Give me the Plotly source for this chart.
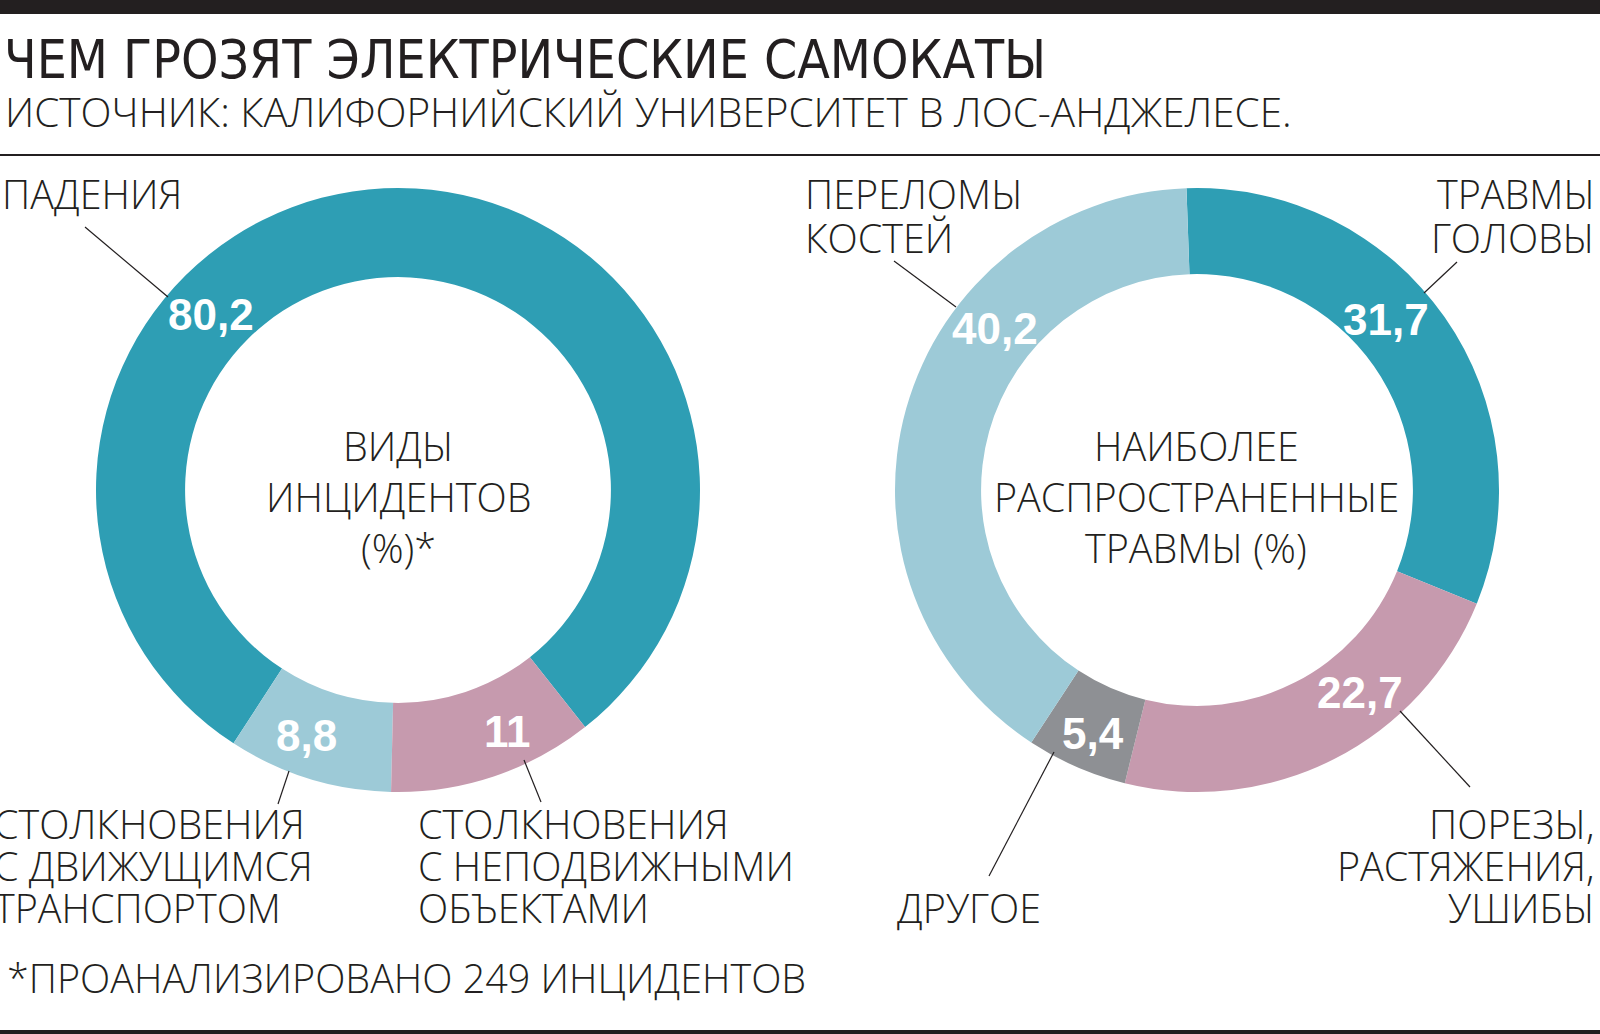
"""
Две кольцевые диаграммы: виды инцидентов и травмы от электросамокатов
"""
import plotly.graph_objs as go

W, H = 1600, 1034

# данные
incident_labels = ["ПАДЕНИЯ", "СТОЛКНОВЕНИЯ С ДВИЖУЩИМСЯ ТРАНСПОРТОМ",
                   "СТОЛКНОВЕНИЯ С НЕПОДВИЖНЫМИ ОБЪЕКТАМИ"]
incident_values = [80.2, 8.8, 11]
incident_text = ["80,2", "8,8", "11"]

injury_labels = ["ТРАВМЫ ГОЛОВЫ", "ПОРЕЗЫ, РАСТЯЖЕНИЯ, УШИБЫ", "ДРУГОЕ",
                 "ПЕРЕЛОМЫ КОСТЕЙ"]
injury_values = [31.7, 22.7, 5.4, 40.2]
injury_text = ["31,7", "22,7", "5,4", "40,2"]

TEAL = "#2e9eb4"
LIGHT = "#9dcad7"
PINK = "#c69aae"
GRAY = "#8e9094"
INK = "#231f20"

LIGHT_FONT = "Open Sans"
TITLE_FONT = "Liberation Sans Narrow, DejaVu Sans Condensed, Roboto"
BOLD_FONT = "Liberation Sans, Arial"
LABEL_SIZE = 39.5


def px(x):
    return x / W


def py(y):
    return 1 - y / H


def donut_domain(cx, cy, r):
    return dict(x=[px(cx - r), px(cx + r)], y=[py(cy + r), py(cy - r)])


fig = go.Figure()

# виды инцидентов: против часовой, падения занимают дугу от ~213 градусов
fig.add_trace(go.Pie(labels=incident_labels, values=incident_values,
                     marker=dict(colors=[TEAL, LIGHT, PINK], line=dict(width=0)),
                     hole=0.705, sort=False, direction="counterclockwise",
                     rotation=213, textinfo="none", hoverinfo="label+value",
                     domain=donut_domain(398, 490, 302), showlegend=False))

# наиболее распространенные травмы
fig.add_trace(go.Pie(labels=injury_labels, values=injury_values,
                     marker=dict(colors=[TEAL, PINK, GRAY, LIGHT], line=dict(width=0)),
                     hole=0.715, sort=False, direction="clockwise",
                     rotation=-2, textinfo="none", hoverinfo="label+value",
                     domain=donut_domain(1197, 490, 302), showlegend=False))

ann = []


def txt(s, x, y, size=LABEL_SIZE, anchor="left", family=LIGHT_FONT,
        color=INK, weight=300):
    ann.append(dict(text=s, x=px(x), y=py(y), xref="paper", yref="paper",
                    xanchor=anchor, yanchor="middle", showarrow=False,
                    font=dict(family=family, size=size, color=color,
                              weight=weight)))


# заголовок
txt("ЧЕМ ГРОЗЯТ ЭЛЕКТРИЧЕСКИЕ САМОКАТЫ", 2, 59, size=53,
    family=TITLE_FONT, weight=400)
txt("ИСТОЧНИК: КАЛИФОРНИЙСКИЙ УНИВЕРСИТЕТ В ЛОС-АНДЖЕЛЕСЕ.", 3, 111,
    size=40.5)

# подписи в центре колец
for i, line in enumerate(["ВИДЫ", "ИНЦИДЕНТОВ", "(%)*"]):
    txt(line, 398, 446 + 51 * i, anchor="center")
for i, line in enumerate(["НАИБОЛЕЕ", "РАСПРОСТРАНЕННЫЕ", "ТРАВМЫ (%)"]):
    txt(line, 1196, 446 + 51 * i, anchor="center")

# значения на секторах
value_pos_left = [(211, 315), (306, 735), (507, 731)]
for t, (x, y) in zip(incident_text, value_pos_left):
    txt(t, x, y, size=44, anchor="center", family=BOLD_FONT,
        color="white", weight=700)
value_pos_right = [(1386, 319), (1360, 692), (1093, 733), (995, 329)]
for t, (x, y) in zip(injury_text, value_pos_right):
    txt(t, x, y, size=44, anchor="center", family=BOLD_FONT,
        color="white", weight=700)

# категории
txt("ПАДЕНИЯ", 0, 194)
for i, line in enumerate(["ПЕРЕЛОМЫ", "КОСТЕЙ"]):
    txt(line, 803, 194 + 44 * i)
for i, line in enumerate(["ТРАВМЫ", "ГОЛОВЫ"]):
    txt(line, 1597, 194 + 44 * i, anchor="right")
for i, line in enumerate(["СТОЛКНОВЕНИЯ", "С ДВИЖУЩИМСЯ", "ТРАНСПОРТОМ"]):
    txt(line, -8, 824 + 42 * i)
for i, line in enumerate(["СТОЛКНОВЕНИЯ", "С НЕПОДВИЖНЫМИ", "ОБЪЕКТАМИ"]):
    txt(line, 416, 824 + 42 * i)
txt("ДРУГОЕ", 895, 908)
for i, line in enumerate(["ПОРЕЗЫ,", "РАСТЯЖЕНИЯ,", "УШИБЫ"]):
    txt(line, 1597, 824 + 42 * i, anchor="right")

txt("*ПРОАНАЛИЗИРОВАНО 249 ИНЦИДЕНТОВ", 5, 978)

shapes = []


def seg(x0, y0, x1, y1, width=1.2):
    shapes.append(dict(type="line", xref="paper", yref="paper",
                       x0=px(x0), y0=py(y0), x1=px(x1), y1=py(y1),
                       line=dict(color=INK, width=width)))


def band(y0, y1):
    shapes.append(dict(type="rect", xref="paper", yref="paper",
                       x0=0, x1=1, y0=py(y1), y1=py(y0),
                       fillcolor=INK, line=dict(width=0)))


band(0, 14)
band(1030, 1034)
seg(0, 155, W, 155, width=2)

# выноски
seg(85, 227, 168, 297)
seg(894, 261, 956, 307)
seg(1457, 262, 1424, 293)
seg(289, 771, 278, 804)
seg(524, 760, 541, 802)
seg(1054, 752, 989, 876)
seg(1400, 711, 1470, 787)

fig.update_layout(width=W, height=H, margin=dict(l=0, r=0, t=0, b=0),
                  paper_bgcolor="white", plot_bgcolor="white",
                  annotations=ann, shapes=shapes)

# убрать отступы страницы, чтобы рисунок встал ровно в окно
fig.write_html("out.html", config={"displayModeBar": False},
               post_script="document.body.style.margin='0';"
                           "document.body.style.overflow='hidden';")
